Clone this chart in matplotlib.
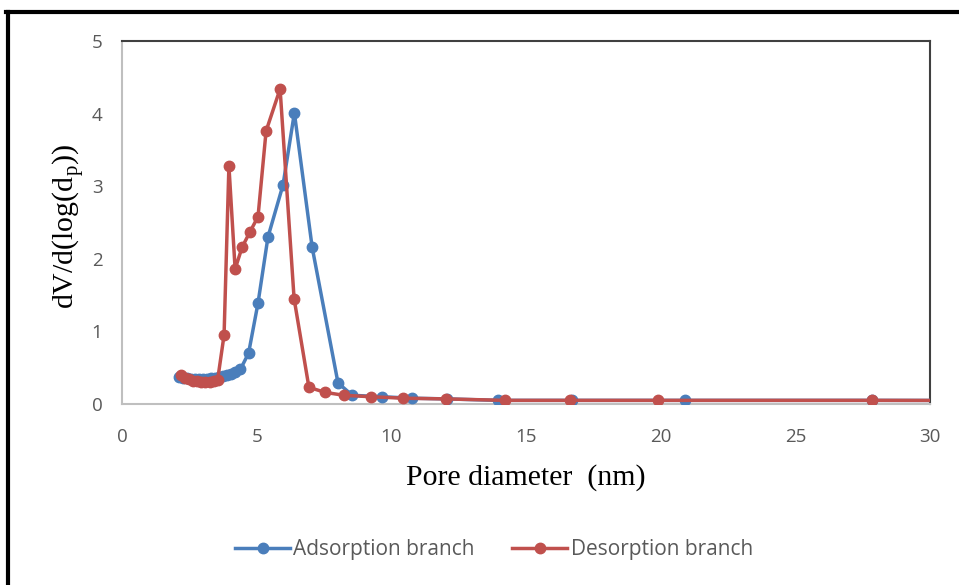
import numpy as np
import matplotlib.pyplot as plt
from matplotlib.lines import Line2D

# pore size distribution (BJH), x in nm
ads_d = [2.1, 2.25, 2.4, 2.55, 2.7, 2.85, 3.0, 3.15, 3.3, 3.45, 3.6, 3.75, 3.9, 4.05, 4.2, 4.4,
         4.7, 5.05, 5.42, 5.98, 6.4, 7.06, 8.02, 8.55, 9.65, 10.77, 12.07, 13.96, 16.71, 20.9, 27.85, 50.0]
ads_v = [0.37, 0.36, 0.36, 0.35, 0.35, 0.35, 0.35, 0.35, 0.36, 0.36, 0.37, 0.38, 0.40, 0.42, 0.44, 0.48,
         0.70, 1.39, 2.30, 3.02, 4.01, 2.16, 0.29, 0.12, 0.10, 0.08, 0.07, 0.05, 0.05, 0.05, 0.05, 0.04]

des_d = [2.2, 2.35, 2.5, 2.65, 2.8, 2.95, 3.1, 3.25, 3.4, 3.55, 3.79, 3.97, 4.2, 4.46, 4.75, 5.05,
         5.35, 5.87, 6.39, 6.94, 7.54, 8.24, 9.25, 10.43, 12.03, 14.22, 16.64, 19.9, 27.85, 50.0]
des_v = [0.40, 0.36, 0.34, 0.32, 0.31, 0.30, 0.30, 0.30, 0.31, 0.33, 0.95, 3.28, 1.86, 2.16, 2.37, 2.58,
         3.76, 4.34, 1.45, 0.23, 0.16, 0.12, 0.10, 0.08, 0.07, 0.05, 0.05, 0.05, 0.05, 0.04]

blue = '#4a7ebb'
red = '#c0504d'

fig = plt.figure(figsize=(9.59, 5.85), dpi=100)
ax = fig.add_axes([0.1272, 0.3094, 0.8426, 0.6205])

ax.plot(ads_d, ads_v, color=blue, lw=2.5, marker='o', ms=7.5, label='Adsorption branch', zorder=3)
ax.plot(des_d, des_v, color=red, lw=2.5, marker='o', ms=7.5, label='Desorption branch', zorder=4)

ax.set_xlim(0, 30)
ax.set_ylim(0, 5)
ax.set_xticks(np.arange(0, 31, 5))
ax.set_yticks(np.arange(0, 6, 1))
ax.tick_params(length=0, labelsize=13.5, labelcolor='#595959')
ax.tick_params(axis='x', pad=17)
ax.tick_params(axis='y', pad=14)
for lab in ax.get_xticklabels() + ax.get_yticklabels():
    lab.set_family('Open Sans')

ax.spines['left'].set_color('#bfbfbf')
ax.spines['bottom'].set_color('#bfbfbf')
ax.spines['top'].set_color('#404040')
ax.spines['right'].set_color('#404040')
for s in ax.spines.values():
    s.set_linewidth(1.5)

ax.set_xlabel('Pore diameter  (nm)', family='Liberation Serif', fontsize=21.5, labelpad=13)
ax.set_ylabel(r'dV/d(log(d$_\mathregular{p}$))', family='Liberation Serif', fontsize=21.5)
ax.yaxis.set_label_coords(-0.045, 0.49)

leg = fig.legend(loc='center', bbox_to_anchor=(0.515, 0.06), ncol=2, frameon=False,
                 fontsize=15, handlelength=2.65, handletextpad=0.15, columnspacing=1.8)
for t in leg.get_texts():
    t.set_color('#595959')
    t.set_family('Open Sans')

# outer frame
fig.add_artist(Line2D([0.006, 1.0], [0.979, 0.979], color='black', lw=3, transform=fig.transFigure))
fig.add_artist(Line2D([0.008, 0.008], [0.0, 0.979], color='black', lw=3, transform=fig.transFigure))

fig.savefig('out.png', dpi=100)
